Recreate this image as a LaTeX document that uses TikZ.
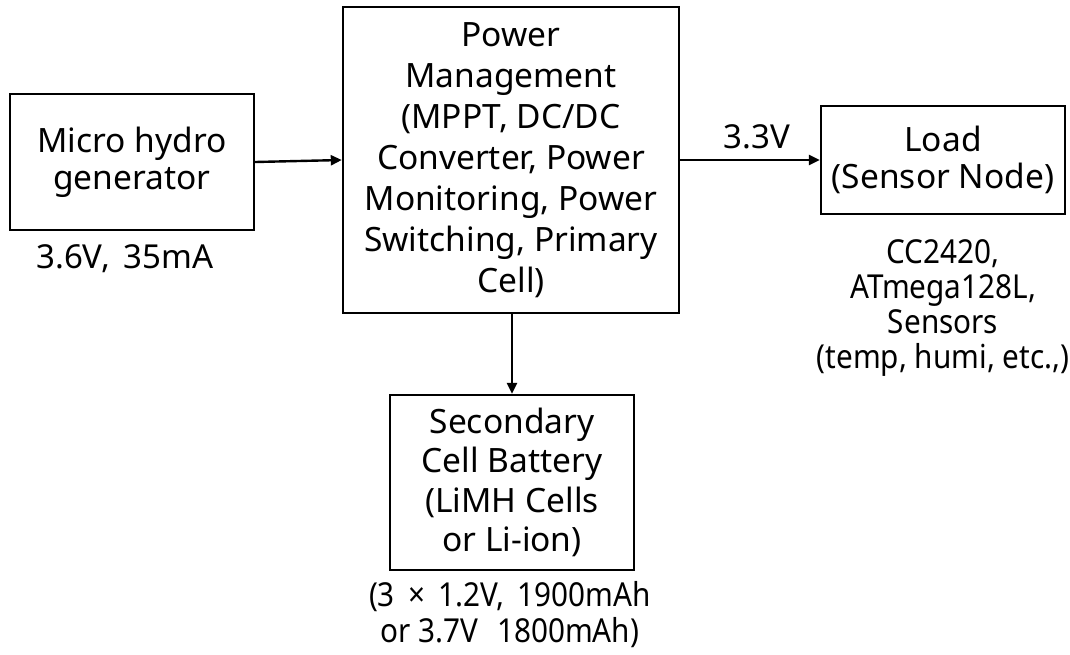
\documentclass[tikz,border=0pt]{standalone}
\usepackage{fontspec}
\setmainfont{Noto Sans}
\newfontfamily\narrowsans[FakeStretch=0.9]{Noto Sans}
\usetikzlibrary{arrows.meta}
\tikzset{
  blk/.style={draw=black, line width=2.4pt, inner sep=0pt, align=center, font=\fontsize{33.5}{37}\selectfont},
  note/.style={inner sep=0pt, align=center, font=\fontsize{33}{34}\selectfont},
  conn/.style={line width=2.4pt, -{Triangle[length=11pt,width=10pt]}}
}
\begin{document}
\begin{tikzpicture}[x=1pt,y=-1pt]
\useasboundingbox (0,0) rectangle (1070,654);
\node[blk, minimum width=244pt, minimum height=136pt] (gen) at (132,162) {Micro hydro\\generator};
\node[blk, minimum width=336pt, minimum height=306pt, font=\fontsize{33.5}{41}\selectfont] (pm) at (511,160)
  {Power\\Management\\(MPPT, DC/DC\\Converter, Power\\Monitoring, Power\\Switching, Primary\\Cell)};
\node[blk, minimum width=244pt, minimum height=108pt] (load) at (943,160) {Load\\(Sensor Node)};
\node[blk, minimum width=244pt, minimum height=175pt, font=\fontsize{33.5}{39.5}\selectfont] (sec) at (512,482.5)
  {Secondary\\Cell Battery\\(LiMH Cells\\or Li-ion)};
\node[note] (gennote) at (125,259) {3.6V,\, 35mA};
\node[note] (v33) at (757,137) {3.3V};
\node[note, font=\fontsize{33}{35}\narrowsans] (loadnote) at (943,308) {CC2420,\\ATmega128L,\\Sensors\\(temp, humi, etc.,)};
\node[note, font=\fontsize{33}{36}\narrowsans] (secnote) at (510,615) {(3\, ×\, 1.2V,\, 1900mAh\\or 3.7V\,\, 1800mAh)};
\draw[conn] (gen.east) -- (pm.west);
\draw[conn] (pm.east) -- (load.west);
\draw[conn] (pm.south -| sec.north) -- (sec.north);
\end{tikzpicture}
\end{document}
